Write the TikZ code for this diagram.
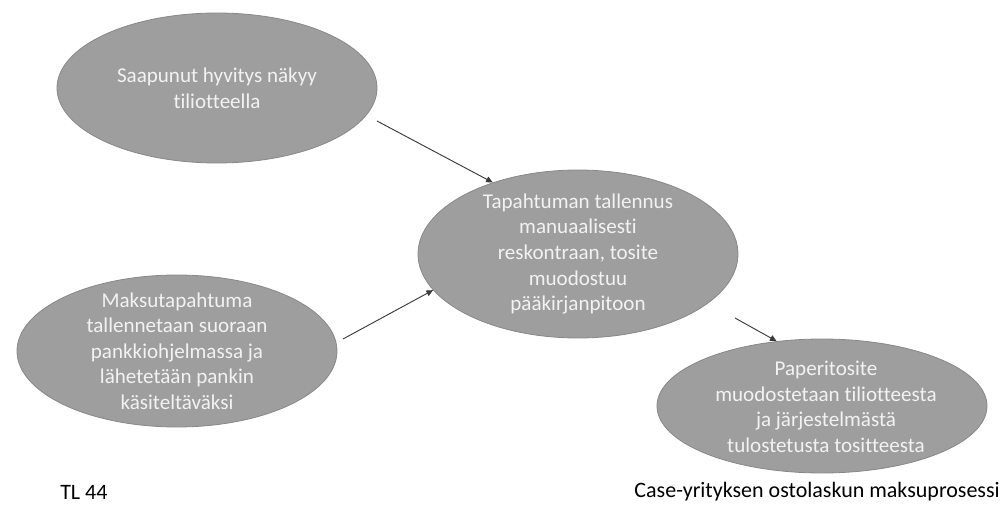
\documentclass[tikz,border=0pt]{standalone}
\usepackage{fontspec}
\setmainfont{Carlito}[Ligatures={NoCommon}]
\usetikzlibrary{shapes.geometric,arrows.meta}
\definecolor{bubblefill}{HTML}{9E9E9E}
\definecolor{bubbleline}{HTML}{888888}
\definecolor{bubbletext}{HTML}{F2F2F2}
\definecolor{arrowline}{HTML}{3A3A3A}
\begin{document}
\begin{tikzpicture}[x=0.75pt,y=-0.75pt,
  bubble/.style={ellipse, draw=bubbleline, line width=0.6pt, fill=bubblefill, inner sep=0pt},
  bubbletxt/.style={text=bubbletext, align=center, inner sep=0pt,
    font=\fontsize{15.8}{19.2}\selectfont},
  flow/.style={draw=arrowline, line width=0.7pt, -{Triangle[length=5pt,width=4.5pt]}},
  footer/.style={inner sep=0pt, font=\fontsize{16.5}{19}\selectfont}]
\useasboundingbox (0,0) rectangle (1008,528);

% process steps
\node[bubble, minimum width=240pt, minimum height=112.5pt] (hyvitys) at (217,88) {};
\node[bubbletxt] (hyvitysT) at (hyvitys) {Saapunut hyvitys näkyy\\tiliotteella};

\node[bubble, minimum width=240pt, minimum height=126pt] (tallennus) at (578,254) {};
\node[bubbletxt] (tallennusT) at (tallennus) {Tapahtuman tallennus\\manuaalisesti\\reskontraan, tosite\\muodostuu\\pääkirjanpitoon};

\node[bubble, minimum width=240pt, minimum height=114pt] (maksu) at (177,351) {};
\node[bubbletxt] (maksuT) at (maksu) {Maksutapahtuma\\tallennetaan suoraan\\pankkiohjelmassa ja\\lähetetään pankin\\käsiteltäväksi};

\node[bubble, minimum width=247.5pt, minimum height=100.5pt] (paperi) at (822,406) {};
\node[bubbletxt] (paperiT) at (826,407) {Paperitosite\\muodostetaan tiliotteesta\\ja järjestelmästä\\tulostetusta tositteesta};

% arrow tails
\coordinate (fromHyvitys) at (377,121);
\coordinate (fromMaksu) at (343,339);
\coordinate (fromTallennus) at (735,318);

\draw[flow] (fromHyvitys) -- (tallennus.140);
\draw[flow] (fromMaksu) -- (tallennus.194);
\draw[flow] (fromTallennus) -- (paperi.125);

% footer
\node[footer, anchor=west] (tl) at (60,492) {TL 44};
\node[footer, anchor=east] (otsikko) at (1000,492) {Case-yrityksen ostolaskun maksuprosessi};
\end{tikzpicture}
\end{document}
